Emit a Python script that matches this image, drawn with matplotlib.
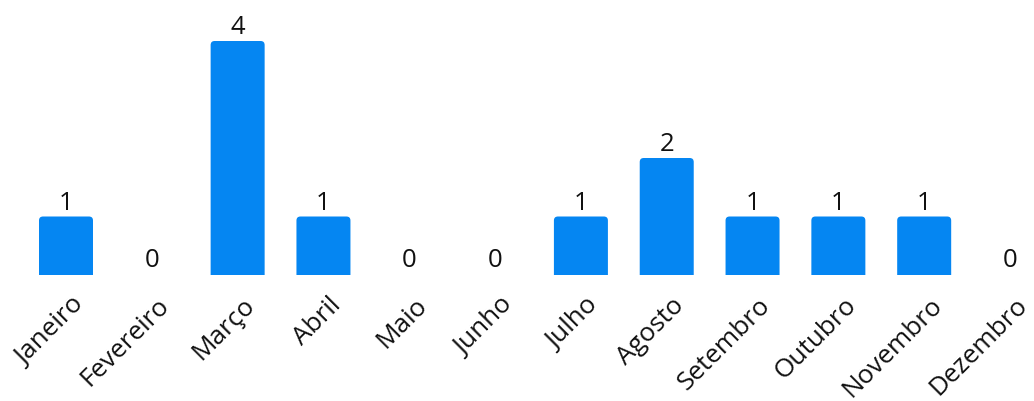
import matplotlib
matplotlib.use("Agg")
import matplotlib.pyplot as plt
from matplotlib.patches import FancyBboxPatch
from matplotlib.transforms import ScaledTranslation

months = ["Janeiro", "Fevereiro", "Março", "Abril", "Maio", "Junho",
          "Julho", "Agosto", "Setembro", "Outubro", "Novembro", "Dezembro"]
counts = [1, 0, 4, 1, 0, 0, 1, 2, 1, 1, 1, 0]

plt.rcParams['font.family'] = ['Open Sans', 'DejaVu Sans']
W, H, DPI = 1034, 401, 100
fig = plt.figure(figsize=(W / DPI, H / DPI), dpi=DPI)
base_px = 275
top_px = 41
ax = fig.add_axes([0, (H - base_px) / H, 1, (base_px - top_px) / H])
ax.set_axis_off()

first_c, last_c = 66, 1010
step = (last_c - first_c) / 11
ax.set_xlim(-first_c / step, (W - first_c) / step)
ax.set_ylim(0, 4)

color = "#0586F2"
bw = 54 / step
px_y = 4 / (base_px - top_px)
r_x = 4 / step
r_y = 4 * px_y
for i, v in enumerate(counts):
    if v > 0:
        p = FancyBboxPatch((i - bw / 2, -0.3), bw, v + 0.3,
                           boxstyle=f"round,pad=0,rounding_size={r_x}",
                           mutation_aspect=r_y / r_x,
                           facecolor=color, edgecolor="none", clip_on=True)
        ax.add_patch(p)
    off = 1 if v > 0 else 2
    ax.annotate(str(v), (i, v), xytext=(0, off), textcoords="offset pixels",
                ha="center", va="bottom", fontsize=18.5, color="#111111",
                annotation_clip=False)

for i, m in enumerate(months):
    ax.text(i, 0, m, rotation=45, rotation_mode="anchor",
            ha="right", va="center", fontsize=18.8, color="#111111",
            clip_on=False,
            transform=ax.transData + ScaledTranslation(14 / DPI, -27 / DPI, fig.dpi_scale_trans))

fig.savefig("out.png", dpi=DPI)
